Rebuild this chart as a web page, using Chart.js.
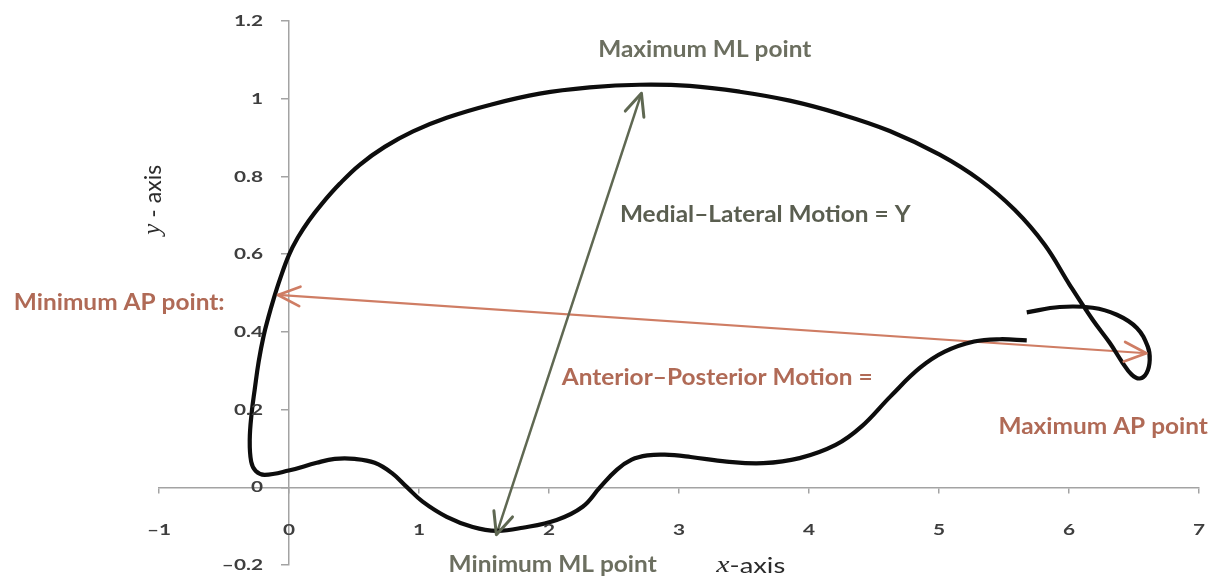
<!DOCTYPE html>
<html>
<head>
<meta charset="utf-8">
<title>Knee motion path</title>
<script src="https://cdn.jsdelivr.net/npm/chart.js@4.4.1/dist/chart.umd.min.js"></script>
<style>
  html, body { margin: 0; padding: 0; background: #ffffff; }
  #wrap { width: 1218px; height: 580px; }
</style>
</head>
<body>
<div id="wrap"><canvas id="c" width="1218" height="580"></canvas></div>
<script>
// Traced motion path (x = anterior-posterior, y = medial-lateral)
const curveX = [5.675, 5.467, 5.270, 5.044, 4.852, 4.627, 4.403, 4.205, 3.928, 3.648,
                3.367, 3.090, 2.890, 2.759, 2.636, 2.521, 2.390, 2.259, 2.059, 1.798,
                1.598, 1.413, 1.213, 1.028, 0.905, 0.790, 0.659, 0.505, 0.352, 0.213,
                -0.002, -0.187, -0.256, -0.291, -0.302, -0.287, -0.264, -0.233, -0.195, -0.160,
                -0.118, -0.068, 0.000, 0.067, 0.152, 0.259, 0.390, 0.544, 0.736, 0.954, 1.213,
                1.544, 1.928, 2.313, 2.698, 3.082, 3.467, 3.852, 4.236, 4.621, 5.005,
                5.313, 5.582, 5.813, 6.005, 6.182, 6.313, 6.413, 6.482, 6.544, 6.598,
                6.621, 6.606, 6.522, 6.368, 6.182, 5.928, 5.675];
const curveY = [0.378, 0.381, 0.375, 0.349, 0.307, 0.234, 0.156, 0.109, 0.075, 0.062,
                0.066, 0.078, 0.084, 0.082, 0.071, 0.045, -0.001, -0.050, -0.084, -0.104,
                -0.112, -0.102, -0.076, -0.037, 0.001, 0.037, 0.063, 0.073, 0.073, 0.063,
                0.043, 0.032, 0.042, 0.066, 0.122, 0.192, 0.251, 0.324, 0.390, 0.436,
                0.485, 0.537, 0.598, 0.642, 0.686, 0.732, 0.781, 0.830, 0.876, 0.916, 0.951,
                0.984, 1.013, 1.029, 1.036, 1.033, 1.018, 0.995, 0.961, 0.917, 0.856,
                0.791, 0.714, 0.624, 0.521, 0.431, 0.372, 0.320, 0.290, 0.280, 0.295,
                0.328, 0.362, 0.410, 0.444, 0.462, 0.464, 0.450];

// Medial-lateral span: minimum ML point -> maximum ML point
const mlX = [1.595, 2.711];
const mlY = [-0.122, 1.014];

// Anterior-posterior span: minimum AP point -> maximum AP point
const apX = [-0.085, 6.595];
const apY = [0.495, 0.345];

// Axis tick values
const xTicks = [-1, 0, 1, 2, 3, 4, 5, 6, 7];
const yTicks = [-0.2, 0, 0.2, 0.4, 0.6, 0.8, 1, 1.2];

const toPoints = (xs, ys) => xs.map((x, i) => ({ x: x, y: ys[i] }));
const fmtTick = v => String(v).replace('-', '\u2013');

const SANS = 'Lato, "Open Sans", sans-serif';
const ML_TEXT = '#6c6f60';
const ML_DARK = '#5a5e50';
const AP_TEXT = '#b06a56';
const TICK_TEXT = '#3e3e3e';
const STRETCH = 1.3;   // text in this figure is set wide

// Free-standing labels, anchored in data units
const notes = [
  { text: 'Maximum ML point',            x: 3.198,  y: 1.126,  color: ML_TEXT },
  { text: 'Medial\u2013Lateral Motion = Y', x: 3.663, y: 0.701, color: ML_DARK },
  { text: 'Anterior\u2013Posterior Motion =', x: 3.294, y: 0.282, color: AP_TEXT },
  { text: 'Minimum AP point:',           x: -1.306, y: 0.475,  color: AP_TEXT },
  { text: 'Maximum AP point',            x: 6.263,  y: 0.156,  color: AP_TEXT },
  { text: 'Minimum ML point',            x: 2.028,  y: -0.199, color: ML_TEXT }
];

// Axis titles: italic serif variable followed by plain text
const axisTitles = [
  { runs: [['x', 'italic 23px "Liberation Serif", serif'], ['-axis', '21px ' + SANS]], x: 3.552, y: -0.202, rot: 0, sx: STRETCH },
  { runs: [['y', 'italic 25px "Liberation Serif", serif'], [' - axis', '23px ' + SANS]], x: -1.045, y: 0.740, rot: -Math.PI / 2, sx: 1 }
];

// draw text horizontally widened around an anchor
function wideText(ctx, text, x, y, align, sx) {
  ctx.save();
  ctx.translate(x, y);
  ctx.scale(sx, 1);
  ctx.textAlign = align;
  ctx.fillText(text, 0, 0);
  ctx.restore();
}

const arrowHeads = {
  id: 'arrowHeads',
  afterDatasetsDraw(chart) {
    const ctx = chart.ctx;
    chart.data.datasets.forEach((ds, i) => {
      if (!ds.arrow) return;
      const pts = chart.getDatasetMeta(i).data;
      const a = pts[0], b = pts[pts.length - 1];
      const head = (tip, from) => {
        const ang = Math.atan2(tip.y - from.y, tip.x - from.x);
        const len = 24, spread = 0.42;
        ctx.beginPath();
        ctx.moveTo(tip.x - len * Math.cos(ang - spread), tip.y - len * Math.sin(ang - spread));
        ctx.lineTo(tip.x, tip.y);
        ctx.lineTo(tip.x - len * Math.cos(ang + spread), tip.y - len * Math.sin(ang + spread));
        ctx.stroke();
      };
      ctx.save();
      ctx.strokeStyle = ds.borderColor;
      ctx.lineWidth = ds.borderWidth + 0.5;
      ctx.lineCap = 'round';
      ctx.lineJoin = 'round';
      head(a, b);
      head(b, a);
      ctx.restore();
    });
  }
};

// Tick labels for the crossing axes, placed off the axis lines
const tickLabels = {
  id: 'tickLabels',
  afterDraw(chart) {
    const ctx = chart.ctx;
    const sx = chart.scales.x, sy = chart.scales.y;
    const x0 = sx.getPixelForValue(0), y0 = sy.getPixelForValue(0);
    ctx.save();
    ctx.fillStyle = TICK_TEXT;
    ctx.font = 'bold 16px ' + SANS;
    ctx.textBaseline = 'middle';
    sx.ticks.forEach(t => wideText(ctx, fmtTick(t.value), sx.getPixelForValue(t.value), y0 + 42.5, 'center', STRETCH));
    sy.ticks.forEach(t => wideText(ctx, fmtTick(t.value), x0 - 26, sy.getPixelForValue(t.value), 'right', STRETCH));
    ctx.restore();
  }
};

const textNotes = {
  id: 'textNotes',
  afterDraw(chart) {
    const ctx = chart.ctx;
    const sx = chart.scales.x, sy = chart.scales.y;
    ctx.save();
    ctx.textBaseline = 'middle';
    ctx.font = 'bold 22px ' + SANS;
    notes.forEach(n => {
      ctx.fillStyle = n.color;
      wideText(ctx, n.text, sx.getPixelForValue(n.x), sy.getPixelForValue(n.y), 'center', 1.11);
    });
    axisTitles.forEach(t => {
      ctx.save();
      ctx.translate(sx.getPixelForValue(t.x), sy.getPixelForValue(t.y));
      ctx.rotate(t.rot);
      ctx.scale(t.sx, 1);
      ctx.fillStyle = '#2b2b2b';
      ctx.textAlign = 'left';
      let total = 0;
      t.runs.forEach(r => { ctx.font = r[1]; total += ctx.measureText(r[0]).width; });
      let cx = -total / 2;
      t.runs.forEach(r => {
        ctx.font = r[1];
        ctx.fillText(r[0], cx, 0);
        cx += ctx.measureText(r[0]).width;
      });
      ctx.restore();
    });
    ctx.restore();
  }
};

const axisGrey = '#a3a3a3';

new Chart(document.getElementById('c'), {
  type: 'scatter',
  data: {
    datasets: [
      {
        label: 'Path',
        data: toPoints(curveX, curveY),
        showLine: true,
        borderColor: '#0d0d0d',
        borderWidth: 4.2,
        tension: 0.4,
        pointRadius: 0,
        fill: false
      },
      {
        label: 'Medial-Lateral Motion',
        data: toPoints(mlX, mlY),
        showLine: true,
        arrow: true,
        borderColor: '#5f6852',
        borderWidth: 2.5,
        pointRadius: 0
      },
      {
        label: 'Anterior-Posterior Motion',
        data: toPoints(apX, apY),
        showLine: true,
        arrow: true,
        borderColor: '#cf7d64',
        borderWidth: 2.2,
        pointRadius: 0
      }
    ]
  },
  options: {
    responsive: false,
    devicePixelRatio: 1,
    animation: false,
    layout: { padding: { left: 159, right: 19, top: 21, bottom: 15 } },
    plugins: { legend: { display: false }, tooltip: { enabled: false } },
    scales: {
      x: {
        type: 'linear',
        position: { y: 0 },
        min: -1, max: 7,
        afterBuildTicks: s => { s.ticks = xTicks.map(v => ({ value: v })); },
        grid: { drawOnChartArea: false, drawTicks: true, tickLength: 5, color: axisGrey, lineWidth: 1.5 },
        border: { display: true, color: axisGrey, width: 1.5 },
        ticks: { display: false }
      },
      y: {
        type: 'linear',
        position: { x: 0 },
        min: -0.2, max: 1.2,
        afterBuildTicks: s => { s.ticks = yTicks.map(v => ({ value: v })); },
        grid: { drawOnChartArea: false, drawTicks: true, tickLength: 7, color: axisGrey, lineWidth: 1.5 },
        border: { display: true, color: axisGrey, width: 1.5 },
        ticks: { display: false }
      }
    }
  },
  plugins: [arrowHeads, tickLabels, textNotes]
});
</script>
</body>
</html>
